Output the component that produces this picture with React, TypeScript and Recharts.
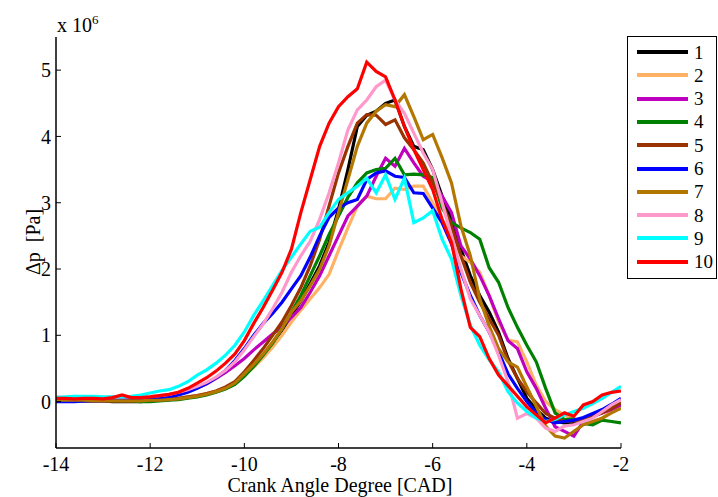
import { LineChart, Line, XAxis, YAxis } from 'recharts'

// crank angle (CAD), 0.2 step
const cad = [
  -14, -13.8, -13.6, -13.4, -13.2, -13, -12.8, -12.6, -12.4, -12.2, -12,
  -11.8, -11.6, -11.4, -11.2, -11, -10.8, -10.6, -10.4, -10.2, -10,
  -9.8, -9.6, -9.4, -9.2, -9, -8.8, -8.6, -8.4, -8.2, -8,
  -7.8, -7.6, -7.4, -7.2, -7, -6.8, -6.6, -6.4, -6.2, -6,
  -5.8, -5.6, -5.4, -5.2, -5, -4.8, -4.6, -4.4, -4.2, -4,
  -3.8, -3.6, -3.4, -3.2, -3, -2.8, -2.6, -2.4, -2.2, -2,
]

// Δp in units of 1e6 Pa
const run1 = [
  0.02, 0.02, 0.01, 0.01, 0.01, 0.01, 0.0, 0.0, 0.0, 0.0, 0.01,
  0.02, 0.03, 0.04, 0.06, 0.08, 0.11, 0.15, 0.2, 0.27, 0.4,
  0.55, 0.7, 0.88, 1.08, 1.3, 1.52, 1.78, 2.05, 2.4, 2.9,
  3.5, 4.15, 4.32, 4.38, 4.5, 4.55, 4.15, 3.85, 3.8, 3.5,
  3.1, 2.75, 2.3, 1.9, 1.6, 1.35, 1.05, 0.65, 0.35, 0.05,
  -0.12, -0.25, -0.3, -0.32, -0.32, -0.28, -0.22, -0.16, -0.1, -0.02,
]
const run2 = [
  0.03, 0.03, 0.02, 0.02, 0.03, 0.03, 0.02, 0.02, 0.02, 0.03, 0.03,
  0.03, 0.04, 0.05, 0.07, 0.09, 0.12, 0.16, 0.21, 0.28, 0.4,
  0.52, 0.66, 0.82, 1.0, 1.2, 1.38, 1.55, 1.72, 1.92, 2.28,
  2.62, 2.95, 3.1, 3.06, 3.06, 3.22, 3.2, 3.25, 3.25, 3.0,
  2.75, 2.5, 2.2, 2.1, 1.95, 1.6, 1.2, 0.93, 0.9, 0.6,
  0.25, 0.0, -0.12, -0.2, -0.27, -0.3, -0.3, -0.25, -0.15, -0.07,
]
const run3 = [
  0.04, 0.04, 0.05, 0.05, 0.04, 0.04, 0.05, 0.06, 0.05, 0.05, 0.06,
  0.07, 0.09, 0.12, 0.16, 0.21, 0.27, 0.35, 0.44, 0.54, 0.65,
  0.78, 0.9, 1.02, 1.13, 1.27, 1.42, 1.65, 1.9, 2.2, 2.5,
  2.8, 2.95, 3.1, 3.4, 3.67, 3.55, 3.82, 3.6, 3.4, 3.32,
  3.1, 2.85, 2.35, 2.15, 1.9, 1.6, 1.25, 0.92, 0.8, 0.45,
  0.2, -0.1, -0.38, -0.45, -0.52, -0.3, -0.22, -0.17, -0.12, -0.05,
]
const run4 = [
  0.03, 0.02, 0.02, 0.02, 0.02, 0.02, 0.02, 0.01, 0.01, 0.0, 0.0,
  0.01, 0.02, 0.03, 0.05, 0.07, 0.1, 0.14, 0.19, 0.26, 0.38,
  0.53, 0.7, 0.88, 1.1, 1.35, 1.6, 1.9, 2.2, 2.52, 2.8,
  3.08, 3.3, 3.45, 3.5, 3.52, 3.67, 3.42, 3.43, 3.42, 3.38,
  2.92, 2.7, 2.62, 2.55, 2.45, 2.02, 1.8, 1.42, 1.12, 0.85,
  0.6, 0.2, -0.17, -0.27, -0.26, -0.33, -0.35, -0.28, -0.3, -0.32,
]
const run5 = [
  0.02, 0.02, 0.02, 0.01, 0.01, 0.01, 0.01, 0.01, 0.01, 0.02, 0.02,
  0.03, 0.04, 0.05, 0.07, 0.09, 0.12, 0.16, 0.22, 0.3, 0.45,
  0.62, 0.8, 1.0, 1.2, 1.45, 1.72, 2.05, 2.45, 2.95, 3.45,
  3.85, 4.2, 4.33, 4.32, 4.18, 4.25, 3.98, 3.8, 3.6, 3.3,
  3.0, 2.65, 2.2, 1.8, 1.5, 1.25, 1.0, 0.62, 0.35, 0.15,
  -0.02, -0.18, -0.25, -0.3, -0.29, -0.27, -0.23, -0.17, -0.1, -0.02,
]
const run6 = [
  0.0, 0.0, 0.0, 0.01, 0.01, 0.01, 0.02, 0.02, 0.03, 0.03, 0.04,
  0.05, 0.07, 0.1, 0.14, 0.2, 0.27, 0.36, 0.47, 0.62, 0.8,
  1.0, 1.18, 1.33, 1.5, 1.7, 1.9, 2.18, 2.5, 2.78, 2.92,
  3.0, 3.05, 3.35, 3.45, 3.48, 3.4, 3.38, 3.15, 3.14, 2.92,
  2.7, 2.38, 1.95, 1.6, 1.3, 1.05, 0.75, 0.42, 0.2, 0.0,
  -0.17, -0.27, -0.32, -0.3, -0.28, -0.24, -0.18, -0.12, -0.04, 0.05,
]
const run7 = [
  0.02, 0.02, 0.02, 0.02, 0.01, 0.01, 0.01, 0.01, 0.01, 0.01, 0.02,
  0.02, 0.03, 0.04, 0.06, 0.08, 0.11, 0.15, 0.2, 0.28, 0.42,
  0.56, 0.72, 0.9, 1.1, 1.35, 1.52, 1.75, 2.0, 2.35, 2.85,
  3.35, 3.85, 4.2, 4.38, 4.48, 4.45, 4.63, 4.3, 3.95, 4.03,
  3.68, 3.3, 2.65, 2.2, 1.55, 1.14, 0.8, 0.6, 0.52, 0.22,
  -0.07, -0.37, -0.52, -0.55, -0.45, -0.35, -0.3, -0.25, -0.17, -0.1,
]
const run8 = [
  0.07, 0.06, 0.06, 0.07, 0.06, 0.06, 0.07, 0.07, 0.07, 0.07, 0.08,
  0.09, 0.11, 0.14, 0.18, 0.23, 0.29, 0.37, 0.47, 0.6, 0.78,
  0.98, 1.17, 1.4, 1.65, 1.95, 2.2, 2.42, 2.75, 3.15, 3.6,
  4.1, 4.4, 4.55, 4.75, 4.85, 4.55, 4.35, 4.05, 3.75, 3.5,
  3.0, 2.5, 2.0, 1.55, 1.3, 1.05, 0.7, 0.3, -0.25, -0.18,
  -0.25, -0.4, -0.45, -0.37, -0.35, -0.3, -0.25, -0.15, -0.05, 0.03,
]
const run9 = [
  0.06, 0.07, 0.08, 0.08, 0.08, 0.07, 0.07, 0.07, 0.08, 0.1, 0.13,
  0.16, 0.18, 0.23, 0.3, 0.4, 0.48, 0.58, 0.7, 0.85, 1.05,
  1.3, 1.52, 1.75, 1.98, 2.18, 2.38, 2.57, 2.63, 2.85, 3.05,
  3.15, 3.25, 3.37, 3.15, 3.42, 3.05, 3.37, 2.7, 2.77, 2.88,
  2.45, 2.15, 1.6, 1.15, 0.85, 0.63, 0.45, 0.15, -0.02, -0.15,
  -0.25, -0.3, -0.27, -0.2, -0.15, -0.1, -0.03, 0.05, 0.14, 0.23,
]
const run10 = [
  0.05, 0.05, 0.04, 0.05, 0.05, 0.04, 0.06, 0.1, 0.06, 0.06, 0.07,
  0.09, 0.11, 0.14, 0.2, 0.28, 0.36, 0.46, 0.58, 0.72, 0.92,
  1.18, 1.42, 1.68, 1.95, 2.3, 2.85, 3.35, 3.85, 4.2, 4.45,
  4.6, 4.72, 5.12, 4.98, 4.9, 4.55, 4.15, 3.8, 3.5, 3.2,
  2.75, 2.4, 1.7, 1.12, 0.98, 0.65, 0.4, 0.24, 0.08, -0.08,
  -0.2, -0.32, -0.25, -0.17, -0.22, -0.05, 0.0, 0.1, 0.14, 0.16,
]

const runNames = ['1', '2', '3', '4', '5', '6', '7', '8', '9', '10']
const runColors = [
  '#000000', '#ffb266', '#bf00bf', '#008000', '#993300',
  '#0000ff', '#b37700', '#ff99cc', '#00ffff', '#ff0000',
]
const xTicks = [-14, -12, -10, -8, -6, -4, -2]
const yTicks = [0, 1, 2, 3, 4, 5]

const runs = [run1, run2, run3, run4, run5, run6, run7, run8, run9, run10]
const data = cad.map((x, i) => {
  const row: Record<string, number> = { x }
  runs.forEach((r, k) => {
    row['r' + k] = r[i]
  })
  return row
})

const FONT = '"Liberation Serif", "Times New Roman", serif'
const tickStyle = { fontSize: 20, fill: '#000', fontFamily: FONT }
const axisLine = { stroke: '#000', strokeWidth: 1.5 }
const blank = () => ''

export default function App() {
  return (
    <div
      style={{
        position: 'absolute',
        left: 0,
        top: 0,
        width: 718,
        height: 497,
        background: '#fff',
        fontFamily: FONT,
        color: '#000',
        overflow: 'hidden',
      }}
    >
      <LineChart
        width={718}
        height={497}
        data={data}
        margin={{ top: 37, right: 97, bottom: 0, left: 0 }}
      >
        <XAxis
          dataKey="x"
          type="number"
          domain={[-14, -2]}
          ticks={xTicks}
          allowDataOverflow
          height={49}
          tickSize={-5}
          tickMargin={14}
          tick={tickStyle}
          axisLine={axisLine}
          tickLine={{ stroke: '#000' }}
        />
        <XAxis
          xAxisId="top"
          orientation="top"
          dataKey="x"
          type="number"
          domain={[-14, -2]}
          ticks={xTicks}
          allowDataOverflow
          height={0}
          tickSize={-5}
          tickFormatter={blank}
          axisLine={axisLine}
          tickLine={{ stroke: '#000' }}
        />
        <YAxis
          type="number"
          domain={[-0.7, 5.5]}
          ticks={yTicks}
          allowDataOverflow
          width={56}
          tickSize={-5}
          tickMargin={10}
          tick={tickStyle}
          axisLine={axisLine}
          tickLine={{ stroke: '#000' }}
        />
        <YAxis
          yAxisId="right"
          orientation="right"
          type="number"
          domain={[-0.7, 5.5]}
          ticks={yTicks}
          allowDataOverflow
          width={0}
          tickSize={-5}
          tickFormatter={blank}
          axisLine={axisLine}
          tickLine={{ stroke: '#000' }}
        />
        {runNames.map((name, k) => (
          <Line
            key={name}
            dataKey={'r' + k}
            name={name}
            stroke={runColors[k]}
            strokeWidth={3.2}
            dot={false}
            type="linear"
            isAnimationActive={false}
          />
        ))}
      </LineChart>

      {/* exponent */}
      <div style={{ position: 'absolute', left: 57, top: 13, fontSize: 20, lineHeight: 1 }}>
        x 10<sup style={{ fontSize: 13, verticalAlign: 8 }}>6</sup>
      </div>

      {/* y label */}
      <div
        style={{
          position: 'absolute',
          left: 33,
          top: 242,
          fontSize: 20,
          lineHeight: 1,
          whiteSpace: 'pre',
          transform: 'translate(-50%, -50%) rotate(-90deg)',
        }}
      >
        {'Δp  [Pa]'}
      </div>

      {/* x label */}
      <div
        style={{
          position: 'absolute',
          left: 340,
          top: 485,
          fontSize: 20,
          lineHeight: 1,
          whiteSpace: 'pre',
          transform: 'translate(-50%, -50%)',
        }}
      >
        Crank Angle Degree [CAD]
      </div>

      {/* legend */}
      <div
        style={{
          position: 'absolute',
          left: 627,
          top: 36,
          width: 88,
          height: 241,
          border: '1.5px solid #000',
          background: '#fff',
        }}
      >
        {runNames.map((name, k) => (
          <div
            key={name}
            style={{
              position: 'absolute',
              left: 9,
              top: 4 + k * 23.3,
              height: 22,
              display: 'flex',
              alignItems: 'center',
            }}
          >
            <div style={{ width: 51, height: 4, background: runColors[k] }} />
            <span style={{ marginLeft: 6, fontSize: 19, lineHeight: 1 }}>{name}</span>
          </div>
        ))}
      </div>
    </div>
  )
}
